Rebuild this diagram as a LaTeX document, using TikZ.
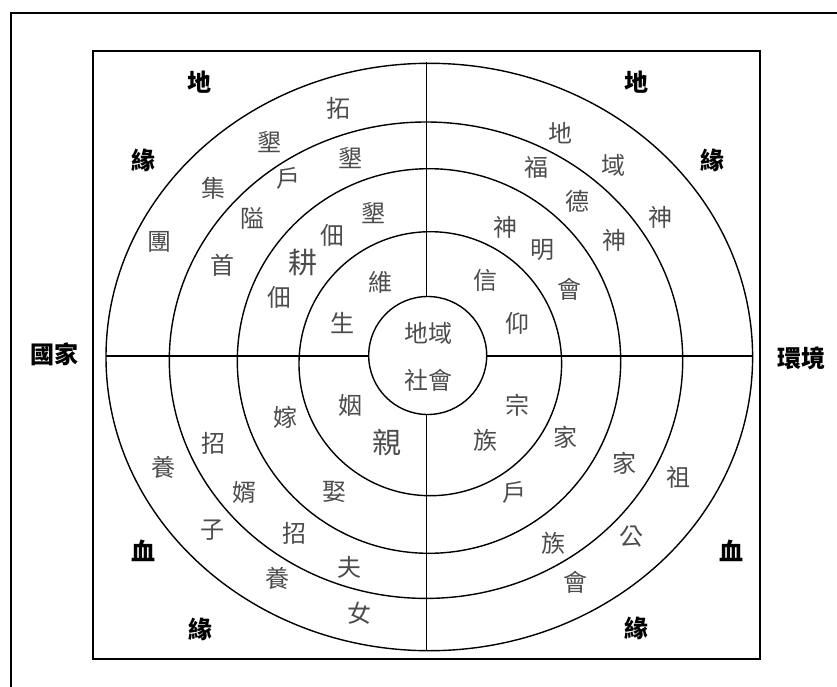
\documentclass[tikz,border=0pt]{standalone}
\usepackage{fontspec}
\newfontfamily\cjk{Noto Sans CJK TC}
\usetikzlibrary{calc}
\begin{document}
\begin{tikzpicture}[x=1pt,y=-1pt,
  ln/.style={line width=1.4pt, black},
  lt/.style={font=\cjk\fontsize{24}{24}\selectfont, text=black!70, inner sep=0pt},
  big/.style={font=\cjk\fontsize{29}{29}\selectfont, text=black!70, inner sep=0pt},
  bd/.style={font=\cjk\bfseries\fontsize{24}{24}\selectfont, text=black, inner sep=0pt}]
\useasboundingbox (0,0) rectangle (837,687);
% outer frame (cropped at right and bottom)
\draw[ln] (11,700) -- (11,13) -- (850,13);
% square
\draw[ln] (93,51) rectangle (760,659);
% rings
\draw[ln] (429.3,357) ellipse [x radius=323.3, y radius=293.7];
\draw[ln] (426,360.2) ellipse [x radius=256.7, y radius=238.2];
\draw[ln] (429,361) ellipse [x radius=191.7, y radius=192.3];
\draw[ln] (430.3,363.7) ellipse [x radius=131.3, y radius=132];
\node[ln, draw, circle, minimum size=118pt, inner sep=0pt] (core) at (427.7,355.5) {};
% cross lines
\coordinate (top) at (426.7,62);
\coordinate (bot) at (426.7,650.5);
\coordinate (lft) at (106,356);
\coordinate (rgt) at (752.5,356);
\draw[ln] (top) -- (top |- core.north);
\draw[ln] (bot) -- (bot |- core.south);
\draw[ln] (lft) -- (lft -| core.west);
\draw[ln] (rgt) -- (rgt -| core.east);
% centre text
\node[lt] (c1) at (428,333) {地域};
\node[lt] (c2) at (428,380) {社會};
% outside labels
\node[bd] (guo) at (54,354) {國家};
\node[bd] (huan) at (801,358) {環境};
% corner labels
\node[bd] (d1) at (199,82) {地};
\node[bd] (y1) at (143,160) {緣};
\node[bd] (d2) at (636,82) {地};
\node[bd] (y2) at (712,160) {緣};
\node[bd] (x1) at (143,551) {血};
\node[bd] (y3) at (200,629) {緣};
\node[bd] (x2) at (731,551) {血};
\node[bd] (y4) at (636,628) {緣};
% upper left
\node[lt] (a1) at (338,108) {拓};
\node[lt] (a2) at (269,142) {墾};
\node[lt] (a3) at (350,158) {墾};
\node[lt] (a4) at (288,178) {戶};
\node[lt] (a5) at (213,188) {集};
\node[lt] (a6) at (252,218) {隘};
\node[lt] (a7) at (373,213) {墾};
\node[lt] (a8) at (332,235) {佃};
\node[lt] (a9) at (159,242) {團};
\node[big] (a10) at (303,263) {耕};
\node[lt] (a11) at (222,265) {首};
\node[lt] (a12) at (380,282) {維};
\node[lt] (a13) at (279,297) {佃};
\node[lt] (a14) at (342,323) {生};
% upper right
\node[lt] (b1) at (560,133) {地};
\node[lt] (b2) at (536,167) {福};
\node[lt] (b3) at (613,165) {域};
\node[lt] (b4) at (577,201) {德};
\node[lt] (b5) at (660,217) {神};
\node[lt] (b6) at (505,227) {神};
\node[lt] (b7) at (614,240) {神};
\node[lt] (b8) at (542,250) {明};
\node[lt] (b9) at (485,280) {信};
\node[lt] (b10) at (569,289) {會};
\node[lt] (b11) at (517,323) {仰};
% lower left
\node[lt] (e1) at (350,405) {姻};
\node[lt] (e2) at (285,417) {嫁};
\node[big] (e3) at (387,443) {親};
\node[lt] (e4) at (213,443) {招};
\node[lt] (e5) at (163,467) {養};
\node[lt] (e6) at (244,492) {婿};
\node[lt] (e7) at (334,492) {娶};
\node[lt] (e8) at (212,530) {子};
\node[lt] (e9) at (294,533) {招};
\node[lt] (e10) at (349,567) {夫};
\node[lt] (e11) at (277,578) {養};
\node[lt] (e12) at (359,613) {女};
% lower right
\node[lt] (f1) at (517,405) {宗};
\node[lt] (f2) at (485,440) {族};
\node[lt] (f3) at (565,437) {家};
\node[lt] (f4) at (624,463) {家};
\node[lt] (f5) at (678,477) {祖};
\node[lt] (f6) at (514,492) {戶};
\node[lt] (f7) at (553,543) {族};
\node[lt] (f8) at (631,537) {公};
\node[lt] (f9) at (575,582) {會};
\end{tikzpicture}
\end{document}
